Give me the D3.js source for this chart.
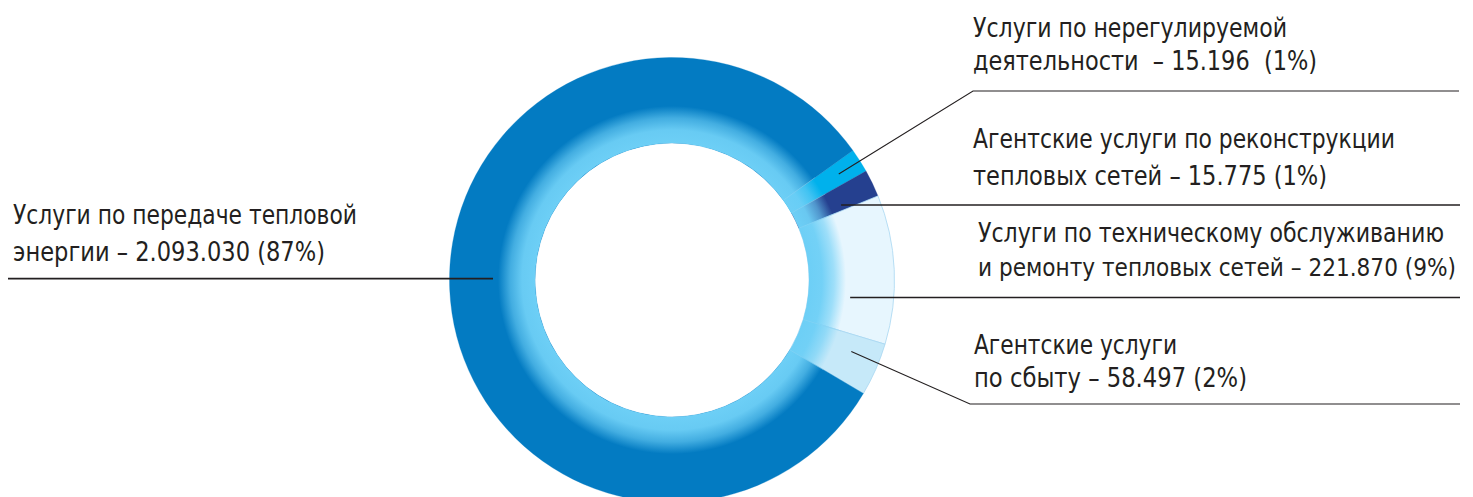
<!DOCTYPE html>
<html>
<head>
<meta charset="utf-8">
<script src="https://cdn.jsdelivr.net/npm/d3@7"></script>
<style>
  html, body { margin: 0; padding: 0; background: #ffffff; }
  svg { display: block; }
  text { font-family: "Liberation Sans Narrow", "DejaVu Sans Condensed", "Roboto Condensed", "Liberation Sans", sans-serif; fill: #231f20; white-space: pre; }
</style>
</head>
<body>
<svg id="chart" width="1473" height="497"></svg>
<script>
// ---- data ----
const categories = [
  "Услуги по передаче тепловой энергии",
  "Услуги по нерегулируемой деятельности",
  "Агентские услуги по реконструкции тепловых сетей",
  "Услуги по техническому обслуживанию и ремонту тепловых сетей",
  "Агентские услуги по сбыту"
];
const values = [2093030, 15196, 15775, 221870, 58497];
const valueLabels = ["2.093.030", "15.196", "15.775", "221.870", "58.497"];
const percentLabels = ["87%", "1%", "1%", "9%", "2%"];
// share of the ring each slice occupies as drawn in the picture (%)
const drawnShares = [81.6, 1.75, 1.97, 10.83, 3.86];
// label text split into two lines
const labelLine1 = [
  "Услуги по передаче тепловой",
  "Услуги по нерегулируемой",
  "Агентские услуги по реконструкции",
  "Услуги по техническому обслуживанию",
  "Агентские услуги"
];
const labelLine2 = [
  "энергии – 2.093.030 (87%)",
  "деятельности  – 15.196  (1%)",
  "тепловых сетей – 15.775 (1%)",
  "и ремонту тепловых сетей – 221.870 (9%)",
  "по сбыту – 58.497 (2%)"
];
const drawOrder = [1, 2, 3, 4, 0];

// ---- styles / layout ----
const colors = ["#037bc2", "#00b1ec", "#25408f", "#e7f6fe", "#c6e9f9"];
const cx = 672, cy = 280, rOuter = 222.5, rInner = 137;
const startDeg = 54.4;

const layout = [
  { tx: 13,  b1: 224,   b2: 260.7, w1: 344, w2: 312, type: "h", lineY: 278.7, r: 179, side: -1, end: 8,    sw: 1.7 },
  { tx: 973, b1: 36.7,  b2: 70,    w1: 314, w2: 344, type: "a", r: 197.6, kinkX: 973, lineY: 91,  end: 1459, sw: 1.1 },
  { tx: 973, b1: 147.7, b2: 185,   w1: 422, w2: 354, type: "h", lineY: 205,   r: 185, side: 1, end: 1460, sw: 1.7 },
  { tx: 978, b1: 242,   b2: 276,   w1: 466, w2: 478, fs2: 24, type: "h", lineY: 297.5, r: 179, side: 1, end: 1460, sw: 1.7 },
  { tx: 974, b1: 354,   b2: 387.3, w1: 203, w2: 273, type: "a", r: 193, kinkX: 970, lineY: 404, end: 1460, sw: 1.1, off: -2 }
];

const svg = d3.select("#chart");
const defs = svg.append("defs");

const glow = defs.append("radialGradient")
  .attr("id", "glow").attr("gradientUnits", "userSpaceOnUse")
  .attr("cx", 0).attr("cy", 0).attr("r", rOuter);
[[rInner / rOuter, 1], [150 / rOuter, 0.95], [162 / rOuter, 0.6], [174 / rOuter, 0]].forEach(([o, op]) => {
  glow.append("stop").attr("offset", o).attr("stop-color", "#6dcff6").attr("stop-opacity", op);
});

const g = svg.append("g").attr("transform", `translate(${cx},${cy})`);

const pie = d3.pie().sort(null).value(i => drawnShares[i])
  .startAngle(startDeg * Math.PI / 180)
  .endAngle(startDeg * Math.PI / 180 + 2 * Math.PI);
const arcs = pie(drawOrder);
const arc = d3.arc().innerRadius(rInner).outerRadius(rOuter);

g.selectAll("path.slice").data(arcs).join("path")
  .attr("class", "slice")
  .attr("d", arc)
  .attr("fill", d => colors[d.data])
  .attr("stroke", d => (d.data === 3 || d.data === 4) ? "#a8d7f1" : colors[d.data])
  .attr("stroke-width", d => (d.data === 3 || d.data === 4) ? 0.8 : 0.3);

// inner glow ring
g.append("path")
  .attr("d", d3.arc().innerRadius(rInner).outerRadius(176).startAngle(0).endAngle(2 * Math.PI)())
  .attr("fill", "url(#glow)");

// faint slice boundaries inside the glow
g.selectAll("line.sep").data(arcs).join("line")
  .attr("class", "sep")
  .attr("x1", d => rInner * Math.sin(d.startAngle)).attr("y1", d => -rInner * Math.cos(d.startAngle))
  .attr("x2", d => 176 * Math.sin(d.startAngle)).attr("y2", d => -176 * Math.cos(d.startAngle))
  .attr("stroke", "#9ad9f5").attr("stroke-width", 0.6).attr("opacity", 0.6);

// leader lines and labels
const arcByCat = {};
arcs.forEach(a => { arcByCat[a.data] = a; });

categories.forEach((c, i) => {
  const L = layout[i];
  let pts;
  if (L.type === "h") {
    const dy = L.lineY - cy;
    const ax = cx + L.side * Math.sqrt(L.r * L.r - dy * dy);
    pts = [[ax, L.lineY], [L.end, L.lineY]];
  } else {
    const a = arcByCat[i];
    const mid = (a.startAngle + a.endAngle) / 2 + ((L.off || 0) * Math.PI / 180);
    const ax = cx + L.r * Math.sin(mid), ay = cy - L.r * Math.cos(mid);
    pts = [[ax, ay], [L.kinkX, L.lineY], [L.end, L.lineY]];
  }
  svg.append("path")
    .attr("d", d3.line()(pts))
    .attr("fill", "none").attr("stroke", "#231f20").attr("stroke-width", L.sw);

  svg.append("text").attr("x", L.tx).attr("y", L.b1)
    .attr("font-size", L.fs1 || 26).attr("textLength", L.w1).attr("lengthAdjust", "spacingAndGlyphs")
    .text(labelLine1[i]);
  svg.append("text").attr("x", L.tx).attr("y", L.b2)
    .attr("font-size", L.fs2 || 26).attr("textLength", L.w2).attr("lengthAdjust", "spacingAndGlyphs")
    .text(labelLine2[i]);
});
</script>
</body>
</html>
